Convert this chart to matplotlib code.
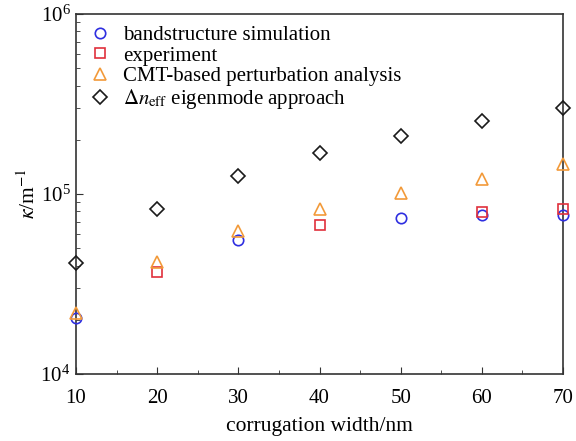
import numpy as np
import matplotlib
matplotlib.use("Agg")
import matplotlib.pyplot as plt
from matplotlib.ticker import LogLocator, NullFormatter, MultipleLocator

plt.rcParams["font.family"] = "Liberation Serif"
plt.rcParams["mathtext.fontset"] = "stix"

width = [10, 20, 30, 40, 50, 60, 70]
bandstructure = [20500, np.nan, 55500, np.nan, 73600, 76400, 76400]
experiment = [np.nan, 36900, np.nan, 67300, np.nan, 79400, 82600]
cmt = [21800, 41900, 62200, 82600, 101000, 121000, 147000]
dneff = [41400, 82600, 126000, 169000, 210000, 254000, 300000]

fig = plt.figure(figsize=(5.76, 4.41), dpi=100)
ax = fig.add_axes([76 / 576, 1 - 374 / 441, (563 - 76) / 576, (374 - 14) / 441])

ms = 7.5
kw = dict(linestyle="none", mfc="none", mew=1.2, clip_on=False, zorder=3)
ax.plot(width, bandstructure, marker="o", ms=ms, mec="#2f2fe0",
        label="bandstructure simulation", **kw)
ax.plot(width, experiment, marker="s", ms=ms - 0.8, mec="#e0303c",
        label="experiment", **kw)
ax.plot(width, cmt, marker="^", ms=ms + 1, mec="#f29a3a",
        label="CMT-based perturbation analysis", **kw)
ax.plot(width, dneff, marker="D", ms=ms - 0.3, mec="#1a1a1a",
        label=r"$\Delta n_{\mathrm{eff}}$ eigenmode approach", **kw)

ax.set_yscale("log")
ax.set_ylim(1e4, 1e6)
ax.set_xlim(10, 70)
ax.xaxis.set_major_locator(MultipleLocator(10))
ax.xaxis.set_minor_locator(MultipleLocator(5))
ax.yaxis.set_major_locator(LogLocator(base=10))
ax.yaxis.set_minor_locator(LogLocator(base=10, subs=np.arange(2, 10)))
ax.yaxis.set_minor_formatter(NullFormatter())
ax.tick_params(which="both", direction="in", labelsize=15, top=False, right=False,
               color="#333333")
ax.tick_params(which="major", length=5)
ax.tick_params(which="minor", length=3)
ax.tick_params(axis="x", pad=11)
ax.tick_params(axis="y", pad=4)
for s in ax.spines.values():
    s.set_linewidth(1.2)
    s.set_color("#333333")

ax.set_xlabel("corrugation width/nm", fontsize=15.5, labelpad=6)
ax.set_ylabel(r"$\kappa$/m$^{-1}$", fontsize=15.5, labelpad=0)

ax.legend(loc="upper left", frameon=False, fontsize=15, handletextpad=0.5,
          labelspacing=0.05, borderaxespad=0.25, handlelength=1.2,
          borderpad=0.3)

fig.savefig("out.png", dpi=100)
